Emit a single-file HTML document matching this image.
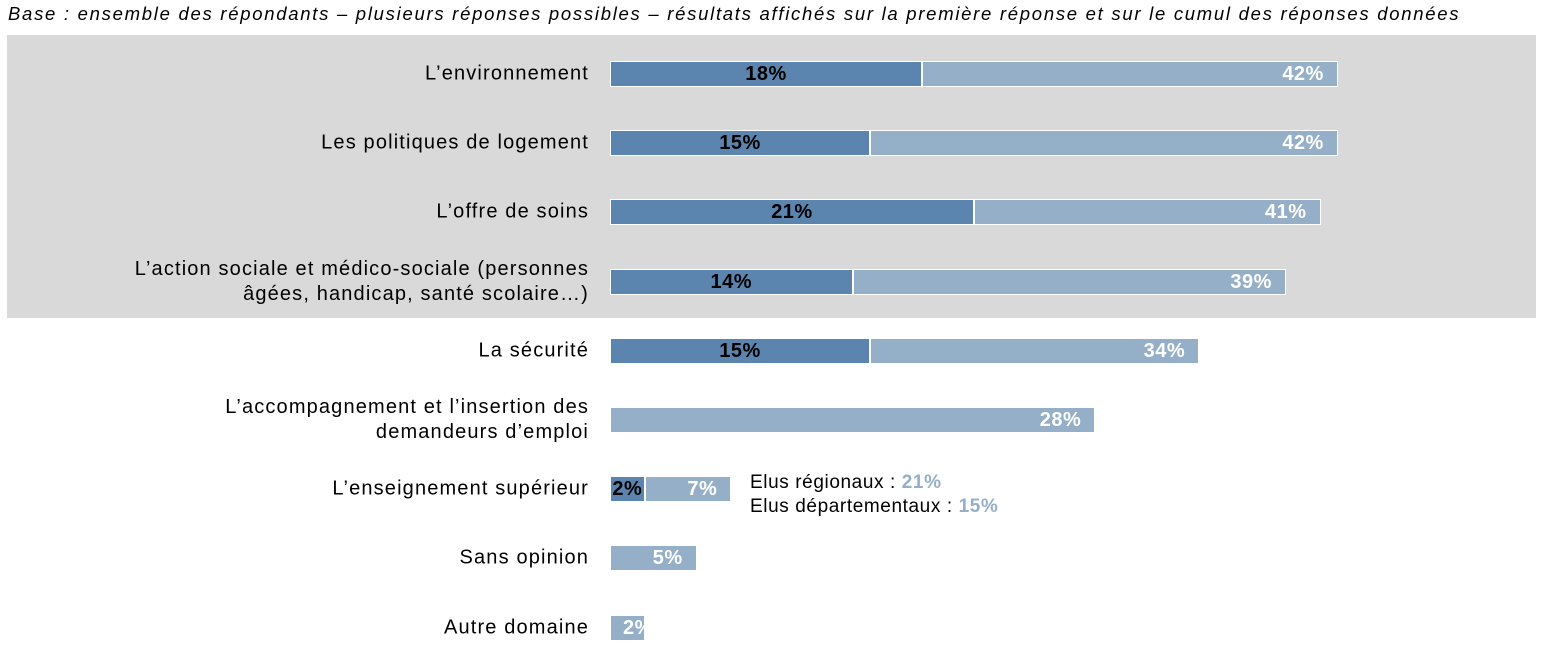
<!DOCTYPE html>
<html><head><meta charset="utf-8"><style>
body{margin:0;width:1559px;height:657px;background:#fff;overflow:hidden;font-family:"Liberation Sans",Arial,sans-serif;}
#title{position:absolute;left:8px;top:3px;font-size:18.5px;letter-spacing:1.72px;font-style:italic;color:#000;white-space:nowrap;}
#bg{position:absolute;left:7px;top:35px;width:1529px;height:283px;background:#d9d9d9;}
.lbl{position:absolute;right:970px;text-align:right;font-size:20px;letter-spacing:1.15px;line-height:25px;color:#000;transform:translateY(-50%);white-space:nowrap;}
.bar{position:absolute;height:26px;box-sizing:border-box;overflow:hidden;}
.v{position:absolute;font-size:20px;letter-spacing:0.5px;font-weight:bold;line-height:24px;top:0;white-space:nowrap;}
#note{position:absolute;left:750px;top:471px;font-size:19px;letter-spacing:0.6px;line-height:24px;}
#note b{color:#95afc9}
</style></head><body>
<div id="title">Base : ensemble des répondants – plusieurs réponses possibles – résultats affichés sur la première réponse et sur le cumul des réponses données</div>
<div id="bg"></div>
<div id="chart"></div>
<div id="note">Elus régionaux : <b>21%</b><br>Elus départementaux : <b>15%</b></div>
<script>
const categories=["L’environnement","Les politiques de logement","L’offre de soins","L’action sociale et médico-sociale (personnes<br>âgées, handicap, santé scolaire…)","La sécurité","L’accompagnement et l’insertion des<br>demandeurs d’emploi","L’enseignement supérieur","Sans opinion","Autre domaine"];
const firstAnswer=[18,15,21,14,15,null,2,null,null];
const totalAnswer=[42,42,41,39,34,28,7,5,2];
const x0=610, scale=17.33, y0=74, step=69.2;
const xs=v=>x0+v*scale;
const c=document.getElementById('chart');
categories.forEach((cat,i)=>{
  const cy=y0+i*step;
  const l=document.createElement('div');
  l.className='lbl';l.style.top=cy+'px';l.innerHTML=cat;
  
  
  c.appendChild(l);
  const f=firstAnswer[i], t=totalAnswer[i];
  const fx=f?xs(f):x0;
  const w=xs(t)-fx;
  const lb=document.createElement('div');
  lb.className='bar';
  lb.style.cssText=`left:${fx}px;top:${cy-13}px;width:${w}px;background:#95afc9;border:1px solid #fff;`;
  
  
  const lv=document.createElement('div');
  lv.className='v';
  lv.style.cssText=(w<60?'left:12px;':'right:13px;')+'color:#fff;';
  lv.textContent=t+'%';
  
  
  lb.appendChild(lv);
  c.appendChild(lb);
  if(f){
    const db=document.createElement('div');
    db.className='bar';
    db.style.cssText=`left:${x0}px;top:${cy-13}px;width:${fx-x0}px;background:#5b84ae;border:1px solid #fff;overflow:visible;`;
    
    
    const dv=document.createElement('div');
    dv.className='v';dv.style.cssText=`left:0;width:100%;text-align:center;color:#000;`;
    dv.textContent=f+'%';
    
    
    db.appendChild(dv);
    c.appendChild(db);
  }
});
</script>
</body></html>
